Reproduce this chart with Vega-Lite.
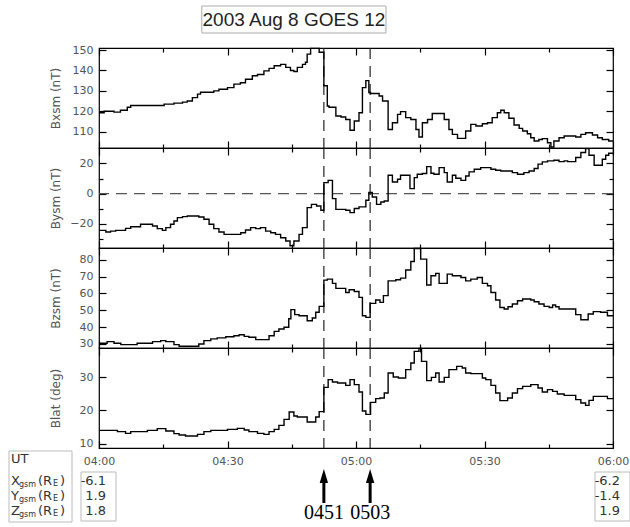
{
  "$schema": "https://vega.github.io/schema/vega-lite/v6.json",
  "padding": {"left": 8, "top": 5, "right": 1, "bottom": 0},
  "bounds": "flush",
  "spacing": 15,
  "datasets": {
    "events": [{"t": 52.5, "label": "0451"}, {"t": 63.3, "label": "0503"}],
    "pos": [
      {"t": 0, "comp": "X", "val": "-6.1"}, {"t": 0, "comp": "Y", "val": "1.9"}, {"t": 0, "comp": "Z", "val": "1.8"},
      {"t": 120, "comp": "X", "val": "-6.2"}, {"t": 120, "comp": "Y", "val": "-1.4"}, {"t": 120, "comp": "Z", "val": "1.9"}
    ],
    "bx": [
      {"t":0,"v":119.3},{"t":1.2,"v":120},{"t":3.5,"v":119.6},{"t":5,"v":120.5},{"t":6.6,"v":122},{"t":7.4,"v":122.8},
      {"t":15.2,"v":123.5},{"t":17.5,"v":124},{"t":19.5,"v":124.5},{"t":20.6,"v":125},{"t":21.8,"v":126.7},{"t":23,"v":128.4},
      {"t":23.7,"v":129.3},{"t":26.8,"v":130},{"t":28,"v":130.8},{"t":30,"v":131.6},{"t":31.5,"v":133.3},{"t":33,"v":134},
      {"t":34.2,"v":135.7},{"t":35.8,"v":137.4},{"t":37,"v":138},{"t":38.5,"v":139.8},{"t":39.7,"v":141},{"t":40.9,"v":142.3},
      {"t":42.4,"v":143},{"t":43.6,"v":141.5},{"t":44.7,"v":140},{"t":45.5,"v":139.5},{"t":46.3,"v":141.5},{"t":47.5,"v":143},
      {"t":48.2,"v":144},{"t":48.6,"v":148},{"t":49.4,"v":150.8},{"t":51.4,"v":148.9},{"t":52.5,"v":132.5},{"t":53.3,"v":122.6},
      {"t":53.7,"v":122},{"t":55.3,"v":117.7},{"t":56.5,"v":117.2},{"t":57.6,"v":116},{"t":58.6,"v":110.7},{"t":59.6,"v":115.2},
      {"t":60.7,"v":119.3},{"t":61.5,"v":131.6},{"t":62.3,"v":135},{"t":63,"v":129.2},{"t":63.4,"v":128.7},{"t":65.4,"v":127.5},
      {"t":66.2,"v":125},{"t":67.5,"v":111.1},{"t":68.5,"v":114.4},{"t":69.7,"v":118.5},{"t":70.4,"v":119.8},{"t":71.6,"v":116.9},
      {"t":72.8,"v":116},{"t":74,"v":111.1},{"t":74.7,"v":107.4},{"t":75.5,"v":114.4},{"t":76.7,"v":116},{"t":77.8,"v":118.9},
      {"t":80.6,"v":116},{"t":81.7,"v":111.1},{"t":82.5,"v":108.7},{"t":83.7,"v":106.7},{"t":85.6,"v":110.3},{"t":86.8,"v":113.6},
      {"t":88,"v":112.8},{"t":89.5,"v":113.9},{"t":90.7,"v":114.4},{"t":91.8,"v":116.9},{"t":93,"v":119.3},{"t":93.8,"v":120.5},
      {"t":94.6,"v":119.3},{"t":95.7,"v":116.6},{"t":96.9,"v":113.3},{"t":98.1,"v":111.6},{"t":98.9,"v":110.3},{"t":100,"v":109},
      {"t":100.8,"v":107},{"t":101.6,"v":105.4},{"t":102.7,"v":106.2},{"t":103.5,"v":106.6},{"t":104.7,"v":104.6},{"t":105.5,"v":102.5},
      {"t":106.2,"v":105.4},{"t":107.4,"v":107},{"t":108.6,"v":107.9},{"t":111.3,"v":107.4},{"t":112.5,"v":108.7},{"t":113.6,"v":109.5},
      {"t":115.2,"v":108.4},{"t":116.4,"v":107},{"t":117.5,"v":106.2},{"t":119,"v":105.4},{"t":120,"v":105.4}
    ],
    "by": [
      {"t":0,"v":-24.3},{"t":1.6,"v":-25.4},{"t":2.7,"v":-24.8},{"t":3.9,"v":-24.3},{"t":6.2,"v":-23},{"t":7.4,"v":-21.9},
      {"t":9.7,"v":-20.3},{"t":12.5,"v":-21.4},{"t":13.6,"v":-23.2},{"t":14.8,"v":-24.3},{"t":15.6,"v":-22.5},{"t":16.7,"v":-20.3},
      {"t":17.5,"v":-18.1},{"t":18.3,"v":-15.9},{"t":19.5,"v":-15.2},{"t":20.6,"v":-14.8},{"t":23.3,"v":-15.5},{"t":24.5,"v":-17},
      {"t":25.7,"v":-20.3},{"t":26.8,"v":-23.2},{"t":28,"v":-25.4},{"t":29.2,"v":-27},{"t":33.1,"v":-25.9},{"t":34.2,"v":-24.1},
      {"t":35.4,"v":-22.5},{"t":36.6,"v":-23.2},{"t":37.7,"v":-22.5},{"t":38.9,"v":-24.8},{"t":40.1,"v":-25.9},{"t":41.2,"v":-27},
      {"t":42.4,"v":-29.2},{"t":43.6,"v":-31.4},{"t":44.6,"v":-34.5},{"t":45.5,"v":-31.4},{"t":46.7,"v":-27},{"t":47.5,"v":-22.5},
      {"t":48.6,"v":-9.3},{"t":49.6,"v":-7.1},{"t":50.8,"v":-8.2},{"t":51.8,"v":-11},{"t":52.5,"v":7.3},{"t":53.5,"v":8.8},
      {"t":54.5,"v":-3.3},{"t":55.3,"v":-10.4},{"t":57.6,"v":-11},{"t":58.6,"v":-12.6},{"t":59.6,"v":-9.9},{"t":60.7,"v":-8.8},
      {"t":62.3,"v":-4.4},{"t":63,"v":0.7},{"t":63.8,"v":-2.2},{"t":64.8,"v":-7.1},{"t":65.8,"v":-5.5},{"t":66.6,"v":-4.9},
      {"t":67.5,"v":12.2},{"t":68.5,"v":7.7},{"t":69.7,"v":9.5},{"t":70.4,"v":12.2},{"t":72.6,"v":3.3},{"t":73.6,"v":10.6},
      {"t":74.3,"v":12.8},{"t":75.5,"v":13.3},{"t":76.5,"v":17.9},{"t":77.5,"v":13.5},{"t":78.2,"v":12.8},{"t":79.4,"v":17.2},
      {"t":80.6,"v":13.9},{"t":81.3,"v":7.7},{"t":82.5,"v":12.2},{"t":83.3,"v":10.2},{"t":84.5,"v":8.8},{"t":85.6,"v":11.7},
      {"t":86.4,"v":14.4},{"t":87.6,"v":16.1},{"t":89.1,"v":17.2},{"t":91.5,"v":16.1},{"t":92.6,"v":15.5},{"t":93.8,"v":15},
      {"t":96.5,"v":13.9},{"t":97.7,"v":12.8},{"t":99.2,"v":13.9},{"t":100.4,"v":15},{"t":101.6,"v":16.6},{"t":102.5,"v":19.5},
      {"t":103.5,"v":21},{"t":104.7,"v":21.7},{"t":106.2,"v":22.1},{"t":107.4,"v":21.2},{"t":108.6,"v":21.7},{"t":109.4,"v":21.2},
      {"t":111.3,"v":23.9},{"t":112.5,"v":27.2},{"t":113.6,"v":29.8},{"t":114.4,"v":25.4},{"t":115.6,"v":18.8},{"t":117.5,"v":22.8},
      {"t":118.3,"v":25.4},{"t":119,"v":26.7},{"t":120,"v":26.7}
    ],
    "bz": [
      {"t":0,"v":30.4},{"t":1.9,"v":31.4},{"t":3.5,"v":30.4},{"t":5.1,"v":29.6},{"t":8.9,"v":30.4},{"t":12.5,"v":31.4},
      {"t":14.4,"v":32},{"t":15.6,"v":31.4},{"t":17.5,"v":29.6},{"t":18.7,"v":28.6},{"t":23.3,"v":30},{"t":24.5,"v":32},
      {"t":26.1,"v":33},{"t":27.6,"v":33.6},{"t":29.6,"v":34.3},{"t":31.5,"v":34.9},{"t":32.7,"v":35.5},{"t":33.9,"v":34.5},
      {"t":35,"v":34},{"t":36.6,"v":32.6},{"t":39.7,"v":34.9},{"t":40.9,"v":37.5},{"t":42,"v":38.9},{"t":43.2,"v":39.9},
      {"t":44.3,"v":45},{"t":44.8,"v":50.4},{"t":45.7,"v":47.4},{"t":46.7,"v":46.8},{"t":48.6,"v":43.8},{"t":49.8,"v":45.4},
      {"t":50.6,"v":48.8},{"t":51.4,"v":52.3},{"t":52.5,"v":67.9},{"t":53.3,"v":68.5},{"t":54.5,"v":66},{"t":55.3,"v":63},
      {"t":57.6,"v":60.6},{"t":58.4,"v":62.2},{"t":59.6,"v":61.2},{"t":60.7,"v":57.7},{"t":61.5,"v":46.8},{"t":62.3,"v":45.8},
      {"t":63.3,"v":54.1},{"t":64.6,"v":56.1},{"t":65.6,"v":54.7},{"t":66.4,"v":58.7},{"t":67.5,"v":67.5},{"t":69.3,"v":68.1},
      {"t":70.4,"v":69.1},{"t":71.6,"v":73.9},{"t":72.8,"v":79},{"t":73.6,"v":86.7},{"t":75.1,"v":80.4},{"t":76.5,"v":65},
      {"t":77.5,"v":70.5},{"t":78.6,"v":71.9},{"t":79.4,"v":66},{"t":81.3,"v":71.5},{"t":82.5,"v":70.5},{"t":84.5,"v":69.5},
      {"t":85.6,"v":67.5},{"t":86.8,"v":68.5},{"t":88.3,"v":69.5},{"t":89.5,"v":66},{"t":90.7,"v":64.6},{"t":91.5,"v":60.6},
      {"t":92.6,"v":56.1},{"t":93.6,"v":51.7},{"t":94.6,"v":50.8},{"t":95.5,"v":52.1},{"t":96.5,"v":53.7},{"t":97.7,"v":55.7},
      {"t":98.9,"v":56.7},{"t":100.8,"v":56.1},{"t":101.6,"v":55.1},{"t":102.7,"v":53.7},{"t":103.9,"v":52.3},{"t":105.1,"v":51.7},
      {"t":105.9,"v":53.1},{"t":106.6,"v":52.1},{"t":107.4,"v":50.8},{"t":111.3,"v":47.4},{"t":112.5,"v":44.4},{"t":114.2,"v":47.8},
      {"t":115.4,"v":49.2},{"t":117.1,"v":48.8},{"t":118.7,"v":46.8},{"t":120,"v":46.8}
    ],
    "blat": [
      {"t":0,"v":14},{"t":4.3,"v":13.6},{"t":6.2,"v":13.1},{"t":7.4,"v":13.6},{"t":11.3,"v":14},{"t":13.6,"v":14.5},
      {"t":15.6,"v":13.8},{"t":17.5,"v":13},{"t":18.7,"v":12.6},{"t":20.2,"v":12.3},{"t":23,"v":12.8},{"t":24.5,"v":13.6},
      {"t":26.1,"v":14},{"t":30,"v":14.3},{"t":32.3,"v":14.6},{"t":33.9,"v":14.1},{"t":35,"v":13.6},{"t":37,"v":13.1},
      {"t":38.5,"v":12.8},{"t":39.7,"v":13.6},{"t":40.9,"v":14.3},{"t":42,"v":15.5},{"t":43.2,"v":17.3},{"t":44.4,"v":19.5},
      {"t":45.5,"v":18.3},{"t":46.3,"v":18},{"t":48.6,"v":16.5},{"t":50.6,"v":18},{"t":51.4,"v":19.6},{"t":52.5,"v":26.9},
      {"t":53.5,"v":29.2},{"t":54.5,"v":28.5},{"t":55.7,"v":28.2},{"t":57.6,"v":27.5},{"t":58.6,"v":29.2},{"t":59.6,"v":27.7},
      {"t":60.7,"v":25.5},{"t":61.5,"v":19.8},{"t":62.3,"v":18.8},{"t":63.4,"v":22.4},{"t":64.6,"v":23.5},{"t":65.6,"v":23.7},
      {"t":66.6,"v":25.2},{"t":67.5,"v":31.2},{"t":68.7,"v":30},{"t":69.9,"v":29.7},{"t":71.6,"v":32.2},{"t":72.8,"v":34.2},
      {"t":73.6,"v":37.7},{"t":74.7,"v":38.6},{"t":75.3,"v":34.7},{"t":76.5,"v":28.9},{"t":77.6,"v":29.9},{"t":78.6,"v":31.2},
      {"t":79.4,"v":28.5},{"t":80.6,"v":29.9},{"t":81.7,"v":32.2},{"t":83.5,"v":33.2},{"t":84.8,"v":32.7},{"t":85.6,"v":31.2},
      {"t":86.8,"v":31},{"t":89.5,"v":29.7},{"t":90.3,"v":29.2},{"t":91.5,"v":27.5},{"t":92.6,"v":25.2},{"t":93.6,"v":22.9},
      {"t":95.4,"v":23.7},{"t":96.5,"v":25.2},{"t":97.7,"v":26.5},{"t":98.9,"v":27.2},{"t":100.8,"v":27.7},{"t":102.5,"v":26.7},
      {"t":103.5,"v":25.5},{"t":104.7,"v":26.2},{"t":105.9,"v":25.7},{"t":107,"v":24.9},{"t":108.6,"v":24.5},{"t":111.3,"v":23.2},
      {"t":112.5,"v":22.2},{"t":113.6,"v":21.5},{"t":114.4,"v":23},{"t":115.4,"v":24.2},{"t":118.7,"v":23.5},{"t":120,"v":23.5}
    ]
  },
  "vconcat": [
    {
      "width": 514, "height": 27,
      "view": {"stroke": null},
      "data": {"values": [{"title": "2003 Aug 8 GOES 12"}]},
      "layer": [
        {"mark": {"type": "rect", "fill": "transparent", "stroke": "#aaa", "strokeWidth": 1},
         "encoding": {"x": {"datum": 24, "type": "quantitative", "scale": {"domain": [0, 120], "nice": false}, "axis": null}, "x2": {"datum": 67}}},
        {"mark": {"type": "text", "font": "Liberation Sans", "fontSize": 19, "color": "#222"},
         "encoding": {"x": {"datum": 45.5, "type": "quantitative", "scale": {"domain": [0, 120], "nice": false}, "axis": null}, "text": {"field": "title"}}}
      ]
    },
    {
      "spacing": 0,
      "bounds": "flush",
      "vconcat": [
        {
          "width": 514, "height": 100,
          "layer": [
            {"data": {"name": "events"}, "mark": {"type": "rule", "strokeDash": [11, 7], "color": "#222", "strokeWidth": 1.2},
             "encoding": {"x": {"field": "t", "type": "quantitative", "scale": {"domain": [0, 120], "nice": false, "zero": false},
               "axis": {"orient": "top", "values": [0,15,30,45,60,75,90,105,120], "tickSize": {"condition": {"test": "datum.value % 30 === 0", "value": -7}, "value": -4}, "labels": false, "title": null}}}},
            {"data": {"name": "bx"}, "mark": {"type": "line", "interpolate": "step-after", "color": "#000", "strokeWidth": 1.4},
             "encoding": {
               "x": {"field": "t", "type": "quantitative", "scale": {"domain": [0, 120], "nice": false, "zero": false},
                 "axis": {"orient": "bottom", "values": [0,15,30,45,60,75,90,105,120], "tickSize": {"condition": {"test": "datum.value % 30 === 0", "value": -7}, "value": -4}, "labels": false, "title": null}},
               "y": {"field": "v", "type": "quantitative", "scale": {"domain": [102, 151], "nice": false, "zero": false},
                 "axis": {"orient": "left", "values": [110,120,130,140,150], "tickSize": -7, "labelPadding": 13, "title": "Bxsm (nT)", "titleX": -44, "titleY": 50, "titleAngle": -90, "titleAlign": "center", "titleBaseline": "middle"}}}},
            {"data": {"name": "bx"}, "mark": {"type": "line", "interpolate": "step-after", "opacity": 0},
             "encoding": {
               "x": {"field": "t", "type": "quantitative", "scale": {"domain": [0, 120], "nice": false, "zero": false}, "axis": null},
               "y": {"field": "v", "type": "quantitative", "scale": {"domain": [102, 151], "nice": false, "zero": false},
                 "axis": {"orient": "right", "values": [110,120,130,140,150], "tickSize": -7, "labels": false, "title": null}}}}
          ],
          "resolve": {"axis": {"x": "independent", "y": "independent"}}
        },
        {
          "width": 514, "height": 100,
          "layer": [
            {"data": {"values": [{"v": 0}]}, "mark": {"type": "rule", "strokeDash": [11, 7], "color": "#555", "strokeWidth": 1.2},
             "encoding": {"y": {"field": "v", "type": "quantitative", "scale": {"domain": [-36, 30.2], "nice": false, "zero": false}, "axis": null}}},
            {"data": {"name": "events"}, "mark": {"type": "rule", "strokeDash": [11, 7], "color": "#222", "strokeWidth": 1.2},
             "encoding": {"x": {"field": "t", "type": "quantitative", "scale": {"domain": [0, 120], "nice": false, "zero": false},
               "axis": {"orient": "top", "values": [0,15,30,45,60,75,90,105,120], "tickSize": {"condition": {"test": "datum.value % 30 === 0", "value": -7}, "value": -4}, "labels": false, "title": null}}}},
            {"data": {"name": "by"}, "mark": {"type": "line", "interpolate": "step-after", "color": "#000", "strokeWidth": 1.4},
             "encoding": {
               "x": {"field": "t", "type": "quantitative", "scale": {"domain": [0, 120], "nice": false, "zero": false},
                 "axis": {"orient": "bottom", "values": [0,15,30,45,60,75,90,105,120], "tickSize": {"condition": {"test": "datum.value % 30 === 0", "value": -7}, "value": -4}, "labels": false, "title": null}},
               "y": {"field": "v", "type": "quantitative", "scale": {"domain": [-36, 30.2], "nice": false, "zero": false},
                 "axis": {"orient": "left", "values": [-30,-20,-10,0,10,20], "labelExpr": "datum.value % 20 === 0 ? datum.label : ''", "tickSize": {"condition": {"test": "datum.value % 20 === 0", "value": -7}, "value": -4}, "labelPadding": 13, "title": "Bysm (nT)", "titleX": -44, "titleY": 50, "titleAngle": -90, "titleAlign": "center", "titleBaseline": "middle"}}}},
            {"data": {"name": "by"}, "mark": {"type": "line", "interpolate": "step-after", "opacity": 0},
             "encoding": {
               "x": {"field": "t", "type": "quantitative", "scale": {"domain": [0, 120], "nice": false, "zero": false}, "axis": null},
               "y": {"field": "v", "type": "quantitative", "scale": {"domain": [-36, 30.2], "nice": false, "zero": false},
                 "axis": {"orient": "right", "values": [-30,-20,-10,0,10,20], "tickSize": {"condition": {"test": "datum.value % 20 === 0", "value": -7}, "value": -4}, "labels": false, "title": null}}}}
          ],
          "resolve": {"axis": {"x": "independent", "y": "independent"}}
        },
        {
          "width": 514, "height": 100,
          "layer": [
            {"data": {"name": "events"}, "mark": {"type": "rule", "strokeDash": [11, 7], "color": "#222", "strokeWidth": 1.2},
             "encoding": {"x": {"field": "t", "type": "quantitative", "scale": {"domain": [0, 120], "nice": false, "zero": false},
               "axis": {"orient": "top", "values": [0,15,30,45,60,75,90,105,120], "tickSize": {"condition": {"test": "datum.value % 30 === 0", "value": -7}, "value": -4}, "labels": false, "title": null}}}},
            {"data": {"name": "bz"}, "mark": {"type": "line", "interpolate": "step-after", "color": "#000", "strokeWidth": 1.4},
             "encoding": {
               "x": {"field": "t", "type": "quantitative", "scale": {"domain": [0, 120], "nice": false, "zero": false},
                 "axis": {"orient": "bottom", "values": [0,15,30,45,60,75,90,105,120], "tickSize": {"condition": {"test": "datum.value % 30 === 0", "value": -7}, "value": -4}, "labels": false, "title": null}},
               "y": {"field": "v", "type": "quantitative", "scale": {"domain": [27.6, 87], "nice": false, "zero": false},
                 "axis": {"orient": "left", "values": [30,40,50,60,70,80], "tickSize": -7, "labelPadding": 13, "title": "Bzsm (nT)", "titleX": -44, "titleY": 50, "titleAngle": -90, "titleAlign": "center", "titleBaseline": "middle"}}}},
            {"data": {"name": "bz"}, "mark": {"type": "line", "interpolate": "step-after", "opacity": 0},
             "encoding": {
               "x": {"field": "t", "type": "quantitative", "scale": {"domain": [0, 120], "nice": false, "zero": false}, "axis": null},
               "y": {"field": "v", "type": "quantitative", "scale": {"domain": [27.6, 87], "nice": false, "zero": false},
                 "axis": {"orient": "right", "values": [30,40,50,60,70,80], "tickSize": -7, "labels": false, "title": null}}}}
          ],
          "resolve": {"axis": {"x": "independent", "y": "independent"}}
        },
        {
          "width": 514, "height": 100,
          "layer": [
            {"data": {"name": "events"}, "mark": {"type": "rule", "strokeDash": [11, 7], "color": "#222", "strokeWidth": 1.2},
             "encoding": {"x": {"field": "t", "type": "quantitative", "scale": {"domain": [0, 120], "nice": false, "zero": false},
               "axis": {"orient": "top", "values": [0,15,30,45,60,75,90,105,120], "tickSize": {"condition": {"test": "datum.value % 30 === 0", "value": -7}, "value": -4}, "labels": false, "title": null}}}},
            {"data": {"name": "blat"}, "mark": {"type": "line", "interpolate": "step-after", "color": "#000", "strokeWidth": 1.4},
             "encoding": {
               "x": {"field": "t", "type": "quantitative", "scale": {"domain": [0, 120], "nice": false, "zero": false},
                 "axis": {"orient": "bottom", "values": [0,15,30,45,60,75,90,105,120], "tickSize": {"condition": {"test": "datum.value % 30 === 0", "value": -7}, "value": -4}, "labelExpr": "datum.value % 30 === 0 ? ['04:00','04:30','05:00','05:30','06:00'][datum.value / 30] : ''", "labelPadding": 14, "title": null}},
               "y": {"field": "v", "type": "quantitative", "scale": {"domain": [8.7, 38.7], "nice": false, "zero": false},
                 "axis": {"orient": "left", "values": [10,20,30], "tickSize": -7, "labelPadding": 13, "title": "Blat (deg)", "titleX": -44, "titleY": 50, "titleAngle": -90, "titleAlign": "center", "titleBaseline": "middle"}}}},
            {"data": {"name": "blat"}, "mark": {"type": "line", "interpolate": "step-after", "opacity": 0},
             "encoding": {
               "x": {"field": "t", "type": "quantitative", "scale": {"domain": [0, 120], "nice": false, "zero": false}, "axis": null},
               "y": {"field": "v", "type": "quantitative", "scale": {"domain": [8.7, 38.7], "nice": false, "zero": false},
                 "axis": {"orient": "right", "values": [10,20,30], "tickSize": -7, "labels": false, "title": null}}}}
          ],
          "resolve": {"axis": {"x": "independent", "y": "independent"}}
        },
        {
          "width": 514, "height": 80,
          "view": {"stroke": null},
          "layer": [
            {"data": {"name": "pos"}, "transform": [{"filter": "datum.t === 0 && datum.comp === 'X'"}],
             "mark": {"type": "rect", "fill": "transparent", "stroke": "#bbb", "strokeWidth": 1, "xOffset": -90, "x2Offset": -27, "yOffset": -30, "y2Offset": 11},
             "encoding": {
               "x": {"field": "t", "type": "quantitative", "scale": {"domain": [0, 120], "nice": false, "zero": false}, "axis": null},
               "x2": {"field": "t"},
               "y": {"datum": "X", "type": "nominal", "scale": {"type": "point", "domain": ["X", "Y", "Z"], "range": [33, 63], "padding": 0}, "axis": null},
               "y2": {"datum": "Z"}}},
            {"data": {"name": "pos"}, "transform": [{"filter": "datum.comp === 'X'"}],
             "mark": {"type": "rect", "fill": "transparent", "stroke": "#bbb", "strokeWidth": 1, "xOffset": -18, "x2Offset": 17, "yOffset": -9, "y2Offset": 10},
             "encoding": {
               "x": {"field": "t", "type": "quantitative", "axis": null},
               "x2": {"field": "t"},
               "y": {"datum": "X", "type": "nominal", "axis": null},
               "y2": {"datum": "Z"}}},
            {"data": {"name": "pos"},
             "mark": {"type": "text", "align": "right", "dx": 7, "baseline": "middle", "fontSize": 13, "color": "#333", "font": "DejaVu Sans"},
             "encoding": {
               "x": {"field": "t", "type": "quantitative", "axis": null},
               "y": {"field": "comp", "type": "nominal", "axis": null},
               "text": {"field": "val"}}},
            {"data": {"name": "pos"}, "transform": [{"filter": "datum.t === 0 && datum.comp === 'X'"}],
             "mark": {"type": "text", "align": "left", "dx": -88, "dy": -22, "baseline": "middle", "fontSize": 13, "color": "#333", "font": "DejaVu Sans"},
             "encoding": {
               "x": {"field": "t", "type": "quantitative", "axis": null},
               "y": {"field": "comp", "type": "nominal", "axis": null},
               "text": {"value": "UT"}}},
            {"data": {"name": "pos"}, "transform": [{"filter": "datum.t === 0"}],
             "mark": {"type": "text", "align": "left", "dx": -88, "baseline": "middle", "fontSize": 13, "color": "#333", "font": "DejaVu Sans"},
             "encoding": {
               "x": {"field": "t", "type": "quantitative", "axis": null},
               "y": {"field": "comp", "type": "nominal", "axis": null},
               "text": {"field": "comp"}}},
            {"data": {"name": "pos"}, "transform": [{"filter": "datum.t === 0"}],
             "mark": {"type": "text", "align": "left", "dx": -80, "dy": 4, "baseline": "middle", "fontSize": 8, "color": "#333", "font": "DejaVu Sans"},
             "encoding": {
               "x": {"field": "t", "type": "quantitative", "axis": null},
               "y": {"field": "comp", "type": "nominal", "axis": null},
               "text": {"value": "gsm"}}},
            {"data": {"name": "pos"}, "transform": [{"filter": "datum.t === 0"}],
             "mark": {"type": "text", "align": "left", "dx": -61, "baseline": "middle", "fontSize": 13, "color": "#333", "font": "DejaVu Sans"},
             "encoding": {
               "x": {"field": "t", "type": "quantitative", "axis": null},
               "y": {"field": "comp", "type": "nominal", "axis": null},
               "text": {"value": "(R"}}},
            {"data": {"name": "pos"}, "transform": [{"filter": "datum.t === 0"}],
             "mark": {"type": "text", "align": "left", "dx": -46, "dy": 3, "baseline": "middle", "fontSize": 8, "color": "#333", "font": "DejaVu Sans"},
             "encoding": {
               "x": {"field": "t", "type": "quantitative", "axis": null},
               "y": {"field": "comp", "type": "nominal", "axis": null},
               "text": {"value": "E"}}},
            {"data": {"name": "pos"}, "transform": [{"filter": "datum.t === 0"}],
             "mark": {"type": "text", "align": "left", "dx": -39, "baseline": "middle", "fontSize": 13, "color": "#333", "font": "DejaVu Sans"},
             "encoding": {
               "x": {"field": "t", "type": "quantitative", "axis": null},
               "y": {"field": "comp", "type": "nominal", "axis": null},
               "text": {"value": ")"}}},
            {"data": {"name": "events"},
             "mark": {"type": "rule", "color": "#000", "strokeWidth": 3, "yOffset": 2, "y2Offset": -8},
             "encoding": {
               "x": {"field": "t", "type": "quantitative", "axis": null},
               "y": {"datum": "X", "type": "nominal", "axis": null},
               "y2": {"datum": "Z"}}},
            {"data": {"name": "events"},
             "mark": {"type": "point", "shape": "M0,-1L0.6,1L-0.6,1Z", "size": 196, "filled": true, "color": "#000", "opacity": 1, "yOffset": -5},
             "encoding": {
               "x": {"field": "t", "type": "quantitative", "axis": null},
               "y": {"datum": "X", "type": "nominal", "axis": null}}},
            {"data": {"name": "events"},
             "mark": {"type": "text", "font": "Liberation Serif", "fontSize": 20, "color": "#000", "baseline": "middle", "dy": 2},
             "encoding": {
               "x": {"field": "t", "type": "quantitative", "axis": null},
               "y": {"datum": "Z", "type": "nominal", "axis": null},
               "text": {"field": "label"}}}
          ]
        }
      ]
    }
  ],
  "config": {
    "view": {"stroke": "#000", "strokeWidth": 1.2},
    "axis": {"domain": false, "grid": false, "labelFont": "DejaVu Sans", "labelFontSize": 11, "labelColor": "#555",
             "titleFont": "DejaVu Sans", "titleFontSize": 12, "titleFontWeight": "normal", "titleColor": "#555",
             "tickColor": "#000", "tickWidth": 1.2, "labelFlush": false, "labelOverlap": false},
    "text": {"font": "DejaVu Sans"}
  }
}
